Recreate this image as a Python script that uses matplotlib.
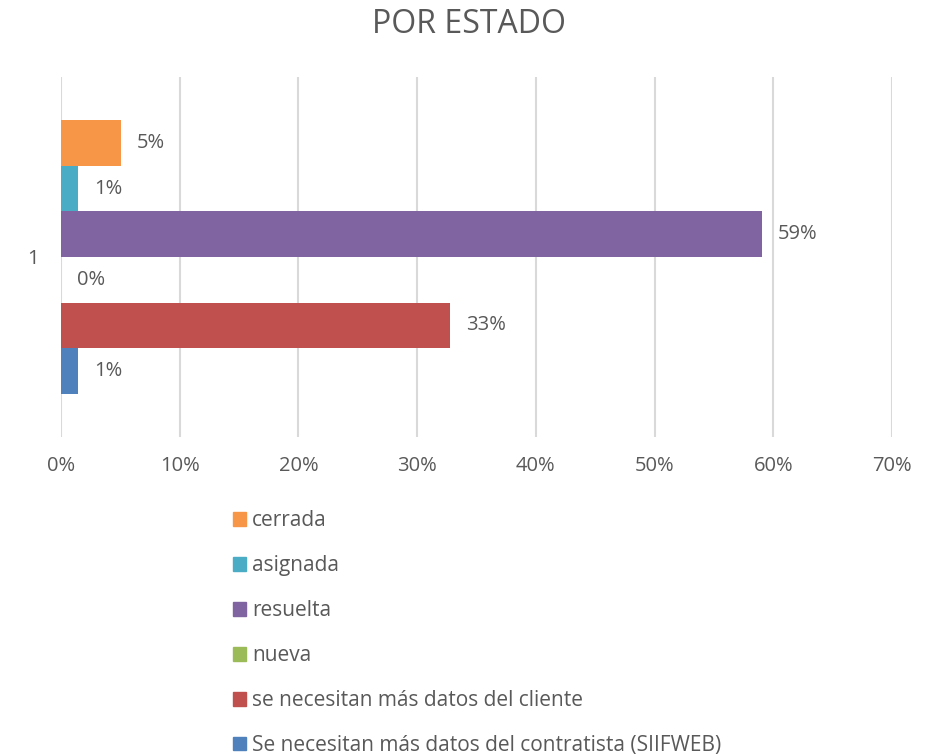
import matplotlib.pyplot as plt
import matplotlib.patches as mpatches

plt.rcParams['font.family'] = ['Open Sans', 'DejaVu Sans']

#
# datos
#
categories = ['1']
series = ['cerrada', 'asignada', 'resuelta', 'nueva',
          'se necesitan más datos del cliente',
          'Se necesitan más datos del contratista (SIIFWEB)']
values = [5.05, 1.43, 59.06, 0.0, 32.77, 1.43]
value_labels = ['5%', '1%', '59%', '0%', '33%', '1%']
colors = ['#F79646', '#4BACC6', '#8064A2', '#9BBB59', '#C0504D', '#4F81BD']
xticks = [0, 10, 20, 30, 40, 50, 60, 70]

text_color = '#595959'
grid_color = '#D9D9D9'

fig = plt.figure(figsize=(9.38, 7.55), dpi=100)
ax = fig.add_axes([61/938, 1 - 437/755, (892 - 61)/938, 360/755])

h = 0.1264
n = len(series)
for i in range(n):
    y = (n/2 - 0.5 - i) * h
    ax.barh(y, values[i], height=h, color=colors[i], zorder=3)
    ax.annotate(value_labels[i], xy=(values[i], y), xytext=(11.5, 0),
                textcoords='offset points', va='center', ha='left',
                fontsize=14.5, color=text_color)

ax.set_xlim(0, 70)
ax.set_ylim(-0.5, 0.5)
ax.set_xticks(xticks)
ax.set_xticklabels(['%d%%' % t for t in xticks], fontsize=14.5, color=text_color)
ax.set_yticks([0])
ax.set_yticklabels(categories, fontsize=14.5, color=text_color)
ax.tick_params(axis='x', length=0, pad=14)
ax.tick_params(axis='y', length=0, pad=16)
ax.grid(axis='x', color=grid_color, linewidth=1.5, zorder=0)
for s in ax.spines.values():
    s.set_visible(False)

fig.suptitle('POR ESTADO', y=0.99, fontsize=23, color=text_color)

handles = [mpatches.Patch(color=c, label=s) for c, s in zip(colors, series)]
fig.legend(handles=handles, loc='upper left', bbox_to_anchor=(223/938, 1 - 500/755),
           frameon=False, fontsize=15, labelcolor=text_color,
           handlelength=0.6, handleheight=0.6, handletextpad=0.3,
           labelspacing=1.15, borderpad=0)

fig.savefig('out.png', dpi=100)
